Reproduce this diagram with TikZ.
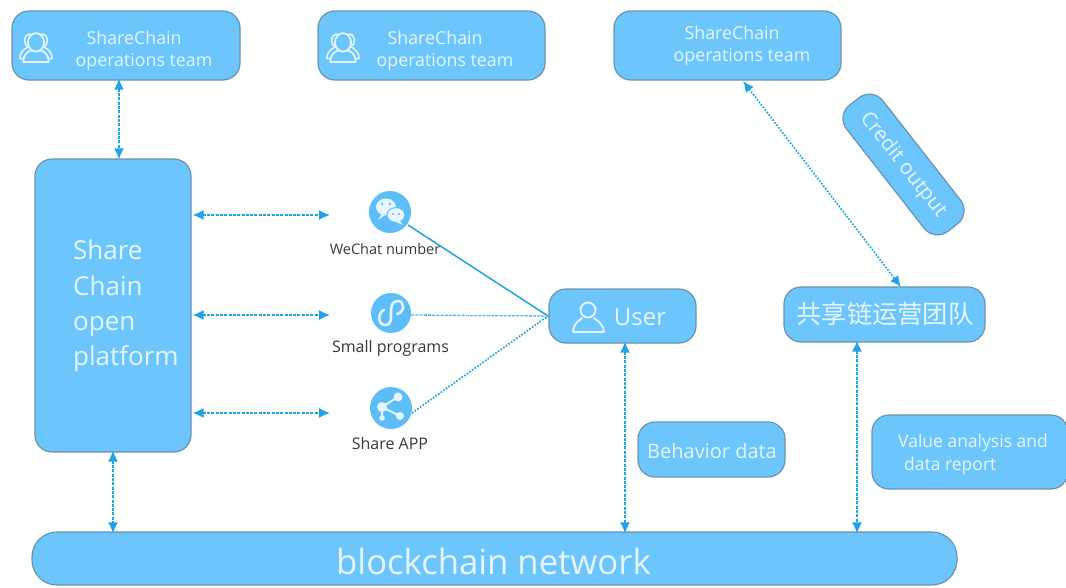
\documentclass[tikz,border=0pt]{standalone}
\usepackage{fontspec}
\setmainfont{Open Sans}
\newfontfamily\cjkfont{Noto Sans CJK SC}
\usetikzlibrary{arrows.meta}
\definecolor{boxfill}{HTML}{6CC6FC}
\definecolor{boxline}{HTML}{6A93AE}
\definecolor{arrowc}{HTML}{1FA3E6}
\definecolor{iconc}{HTML}{5DBDF8}
\definecolor{paletxt}{HTML}{E6F5FF}
\tikzset{
  boxstyle/.style={draw=boxline,fill=boxfill,line width=1.2pt,rounded corners=#1,inner sep=0pt},
  boxstyle/.default=17pt,
  lbl/.style={text=paletxt,align=center,inner sep=0pt},
  captxt/.style={text=black!78,inner sep=0pt},
  dbl/.style={draw=arrowc,line width=1.5pt,dash pattern=on 3pt off 1.3pt,{Latex[length=11pt,width=10pt]}-{Latex[length=11pt,width=10pt]}},
  dbldot/.style={draw=arrowc,line width=1.7pt,dash pattern=on 1.7pt off 1.5pt,{Latex[length=11pt,width=10pt]}-{Latex[length=11pt,width=10pt]}},
  iconcirc/.style={circle,fill=iconc,minimum size=#1,inner sep=0pt},
  wl/.style={draw=paletxt,line width=1.8pt,line cap=round,line join=round},
  teamfont/.style={font=\fontsize{17.8}{22.5}\selectfont,align=left},
}
\newcommand{\peopleicon}[2]{%
  \begin{scope}[shift={(#1,#2)},scale=1.15]
    \draw[wl] (0,-4) circle[x radius=7,y radius=8];
    \draw[wl] (-11,13) -- (11,13) .. controls (11,6) and (7,4) .. (4,3) (-4,3) .. controls (-7,4) and (-11,6) .. (-11,13);
    \draw[wl,line width=1.5pt] (-4,-11) .. controls (-12,-12) and (-11,-2) .. (-7,0) .. controls (-11,2) and (-14,5) .. (-14,10) -- (-11,10);
    \draw[wl,line width=1.5pt] (4,-11) .. controls (12,-12) and (11,-2) .. (7,0) .. controls (11,2) and (14,5) .. (14,10) -- (11,10);
  \end{scope}}
\begin{document}
\begin{tikzpicture}[x=1pt,y=-1pt]
\useasboundingbox (0,0) rectangle (1066,587);
% boxes
\node[boxstyle,minimum width=228pt,minimum height=69pt] (team1) at (126,45.5) {};
\node[boxstyle,minimum width=227pt,minimum height=69pt] (team2) at (431.5,45.5) {};
\node[boxstyle,minimum width=227pt,minimum height=69pt] (team3) at (727.5,45.5) {};
\node[boxstyle,minimum width=156pt,minimum height=293pt] (plat) at (113,305.5) {};
\node[boxstyle,minimum width=147pt,minimum height=54pt] (user) at (622.5,316) {};
\node[boxstyle,minimum width=201pt,minimum height=55pt] (cn) at (884.5,314.5) {};
\node[boxstyle,minimum width=147pt,minimum height=55pt] (beh) at (711.5,449.5) {};
\node[boxstyle,minimum width=196pt,minimum height=74pt] (val) at (970,452) {};
\node[boxstyle=25pt,minimum width=925pt,minimum height=53pt] (chain) at (494.5,558.5) {};
\node[boxstyle,minimum width=160pt,minimum height=46pt,rotate=-52] (credit) at (903.5,164.5) {};
% box texts
\node[lbl,teamfont] (team1t) at (144,51) {\hspace*{11pt}ShareChain\\operations team};
\node[lbl,teamfont] (team2t) at (445,51) {\hspace*{11pt}ShareChain\\operations team};
\node[lbl,teamfont] (team3t) at (742,46) {\hspace*{11pt}ShareChain\\operations team};
\node[lbl,anchor=west,align=left,font=\fontsize{26}{35.3}\selectfont] (platt) at (73,306) {Share\\ Chain\\ open\\ platform};
\node[lbl,font=\fontsize{24}{28}\selectfont] (usert) at (640,317) {User};
\node[lbl,font=\cjkfont\fontsize{25.3}{30}\selectfont] (cnt) at (885,314) {共享链运营团队};
\node[lbl,font=\fontsize{20}{24}\selectfont] (beht) at (712,451) {Behavior data};
\node[lbl,anchor=west,align=left,font=\fontsize{17.5}{23}\selectfont] (valt) at (898,454) {Value analysis and\\ \hspace*{6pt}data report};
\node[lbl,font=\fontsize{34.7}{38}\selectfont] (chaint) at (493.5,561) {blockchain network};
\node[lbl,font=\fontsize{20.5}{22}\selectfont,rotate=-52] (creditt) at (903,165) {Credit output};
% icons
\node[iconcirc=42pt] (wechat) at (390,212) {};
\node[iconcirc=40pt] (mini) at (391,313) {};
\node[iconcirc=42pt] (share) at (391,408) {};
\peopleicon{36}{47}
\peopleicon{343}{47}
% wechat glyph
\fill[paletxt] (386,207) ellipse[x radius=10,y radius=8.5];
\fill[paletxt] (381,215) -- (378,220) -- (385,215) -- cycle;
\draw[iconc,fill=paletxt,line width=1pt] (396,215) ellipse[x radius=9,y radius=7.5];
\fill[paletxt] (400,221) -- (403,225) -- (396,222) -- cycle;
\fill[iconc] (382,204) circle[radius=1.4] (390,204) circle[radius=1.4] (393,214) circle[radius=1.2] (399,214) circle[radius=1.2];
% mini-program glyph
\draw[wl,line width=2.6pt] (384,310) .. controls (378,312) and (377,325) .. (385,325) .. controls (392,325) and (391,318) .. (391,313) .. controls (391,306) and (392,301) .. (398,301) .. controls (405,301) and (405,312) .. (397,314);
% share glyph
\draw[paletxt,line width=2pt] (398,397) -- (382,407) -- (400,416) (382,407) -- (382,418);
\fill[paletxt] (398,397) circle[radius=4.5] (382,407) circle[radius=5] (400,416) circle[radius=4] (382,418) circle[radius=2.8];
% user glyph
\draw[wl] (588,310) circle[radius=7.5];
\draw[wl] (573,332) -- (604,332) .. controls (604,325) and (598,321) .. (594,318) (582,318) .. controls (578,321) and (573,325) .. (573,332);
% captions
\node[captxt,font=\fontsize{14.5}{16}\selectfont] (wechatc) at (385,249) {WeChat number};
\node[captxt,font=\fontsize{16}{18}\selectfont] (minic) at (390.5,348) {Small programs};
\node[captxt,font=\fontsize{16}{18}\selectfont] (sharec) at (390,443) {Share APP};
% anchor columns and free ends
\coordinate (c1) at (119,0);
\coordinate (c2) at (113,0);
\coordinate (c3) at (625,0);
\coordinate (c4) at (857,0);
\coordinate (e1) at (330,215);
\coordinate (e2) at (330,315);
\coordinate (e3) at (330,413);
\coordinate (ft) at (743,81);
\coordinate (fb) at (901,287);
\coordinate (uw) at (548,316);
% connectors
\draw[dbl] ([yshift=2pt]team1.south -| c1) -- ([yshift=-1pt]plat.north -| c1);
\draw[dbl] ([xshift=1pt]plat.east |- e1) -- (e1);
\draw[dbl] ([xshift=1pt]plat.east |- e2) -- (e2);
\draw[dbl] ([xshift=1pt]plat.east |- e3) -- (e3);
\draw[dbl] ([yshift=2pt]plat.south -| c2) -- ([yshift=-2pt]chain.north -| c2);
\draw[dbl] ([yshift=2pt]user.south -| c3) -- ([yshift=-2pt]chain.north -| c3);
\draw[dbl] ([yshift=2pt]cn.south -| c4) -- ([yshift=-2pt]chain.north -| c4);
\draw[dbldot] (ft) -- (fb);
\draw[arrowc,line width=1.5pt] (wechat) ++(18,13) -- (uw);
\draw[arrowc!80,line width=1.3pt,dash pattern=on 3pt off 1.2pt] (mini.east) ++(0,2) -- (uw);
\draw[arrowc,line width=1.7pt,dash pattern=on 1.7pt off 1.5pt] (share) ++(21,5) -- (uw);
\end{tikzpicture}
\end{document}
